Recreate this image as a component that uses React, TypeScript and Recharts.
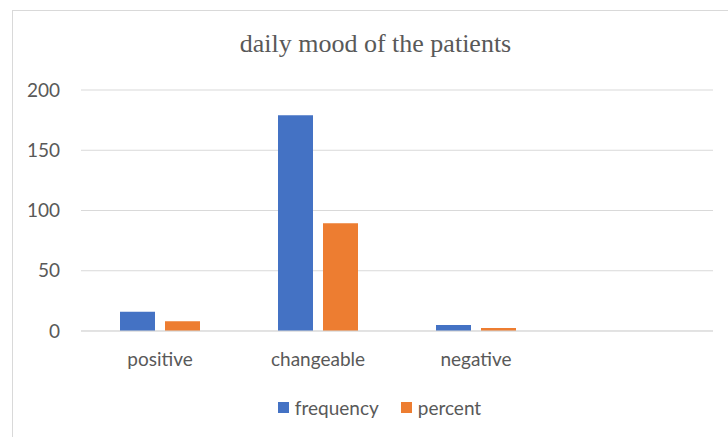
import React from 'react';
import { BarChart, Bar, XAxis, YAxis, CartesianGrid, Legend } from 'recharts';

// chart values
const categories = ['positive', 'changeable', 'negative', ''];
const frequency: (number | null)[] = [16, 179, 5, null];
const percent: (number | null)[] = [8, 89.5, 2.5, null];
const yTicks = [0, 50, 100, 150, 200];

const BLUE = '#4472C4';
const ORANGE = '#ED7D31';
const TEXT = '#595959';
const GRID = '#D9D9D9';
const FONT = 'Lato, "Liberation Sans", sans-serif';

const data = categories.map((name, i) => ({
  name,
  frequency: frequency[i],
  percent: percent[i],
}));

const LegendContent = () => (
  <div
    style={{
      display: 'flex',
      justifyContent: 'center',
      alignItems: 'center',
      height: 24,
      fontFamily: FONT,
      fontSize: 19,
      color: TEXT,
      paddingLeft: 46,
    }}
  >
    <span style={{ width: 11, height: 11, background: BLUE, marginRight: 6 }} />
    <span style={{ marginRight: 22 }}>frequency</span>
    <span style={{ width: 11, height: 11, background: ORANGE, marginRight: 6 }} />
    <span>percent</span>
  </div>
);

export default function App() {
  return (
    <div
      style={{
        position: 'absolute',
        left: 0,
        top: 0,
        width: 728,
        height: 437,
        background: '#fff',
        overflow: 'hidden',
      }}
    >
      {/* chart frame, right and bottom edges run off the picture */}
      <div
        style={{
          position: 'absolute',
          left: 12,
          top: 10,
          width: 740,
          height: 460,
          border: `1px solid ${GRID}`,
          boxSizing: 'border-box',
        }}
      />
      <div
        style={{
          position: 'absolute',
          left: 0,
          top: 31,
          width: 751,
          textAlign: 'center',
          fontFamily: '"Liberation Serif", serif',
          fontSize: 26,
          lineHeight: '26px',
          color: TEXT,
        }}
      >
        daily mood of the patients
      </div>
      <div style={{ position: 'absolute', left: 0, top: 0 }}>
        <BarChart
          width={728}
          height={437}
          data={data}
          margin={{ top: 90, right: 15, bottom: 18, left: 0 }}
          barGap={10}
          barCategoryGap={39}
        >
          <CartesianGrid vertical={false} stroke={GRID} strokeWidth={1} />
          <XAxis
            dataKey="name"
            height={64}
            axisLine={{ stroke: GRID }}
            tickLine={false}
            tickMargin={16}
            tick={{ fill: TEXT, fontSize: 19, fontFamily: FONT }}
            interval={0}
          />
          <YAxis
            width={81}
            domain={[0, 200]}
            ticks={yTicks}
            axisLine={false}
            tickLine={false}
            tickMargin={15}
            tick={{ fill: TEXT, fontSize: 19, fontFamily: FONT }}
          />
          <Legend verticalAlign="bottom" height={24} content={<LegendContent />} />
          <Bar dataKey="frequency" fill={BLUE} isAnimationActive={false} />
          <Bar dataKey="percent" fill={ORANGE} isAnimationActive={false} />
        </BarChart>
      </div>
    </div>
  );
}
